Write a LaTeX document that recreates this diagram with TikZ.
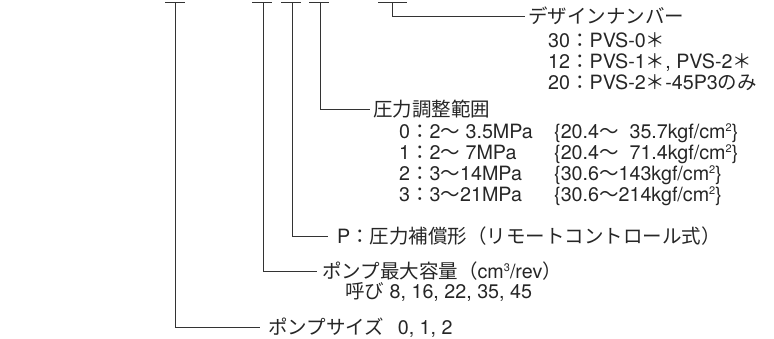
\documentclass[tikz,border=0pt]{standalone}
\usepackage{fontspec}
\setmainfont{TeX Gyre Heros}
\newfontfamily\jp[Scale=0.99]{Noto Sans CJK JP}
\newcommand\J[1]{{\jp #1}}
\newcommand\supnum[1]{\raisebox{6.5pt}{\fontsize{11}{11}\selectfont #1}}
\begin{document}
\begin{tikzpicture}[x=1pt,y=-1pt,
  txt/.style={anchor=west,inner sep=0pt,text height=14pt,text depth=0pt,
    font=\fontsize{19.7}{21}\selectfont,text=black!85},
  ln/.style={draw=black!80,line width=0.8pt}]
\useasboundingbox (0,0) rectangle (774,338);
% T bars
\coordinate (t1) at (175,2);
\coordinate (t2) at (263,2);
\coordinate (t3) at (292,2);
\coordinate (t4) at (320,2);
\coordinate (t5) at (392,2);
\draw[ln] (165,2) -- (185,2);
\draw[ln] (252,2) -- (272,2);
\draw[ln] (281,2) -- (301,2);
\draw[ln] (309,2) -- (329,2);
\draw[ln] (378,2) -- (407,2);
% labels
\node[txt] (l5) at (528,16) {\J{デザインナンバー}};
\node[txt] (d1) at (548,40) {30\J{：}PVS-0\J{＊}};
\node[txt] (d2) at (548,61) {12\J{：}PVS-1\J{＊}, PVS-2\J{＊}};
\node[txt] (d3) at (548,82) {20\J{：}PVS-2\J{＊}-45P3\J{のみ}};
\node[txt] (l4) at (373,109) {\J{圧力調整範囲}};
\node[txt] (p0) at (399,131) {0\J{：}2\J{～} 3.5MPa};
\node[txt] (p1) at (399,152) {1\J{：}2\J{～} 7MPa};
\node[txt] (p2) at (399,173) {2\J{：}3\J{～}14MPa};
\node[txt] (p3) at (399,194) {3\J{：}3\J{～}21MPa};
\node[txt] (q0) at (554,131) {\{20.4\J{～}\ \ 35.7kgf/cm\supnum{2}\}};
\node[txt] (q1) at (554,152) {\{20.4\J{～}\ \ 71.4kgf/cm\supnum{2}\}};
\node[txt] (q2) at (554,173) {\{30.6\J{～}143kgf/cm\supnum{2}\}};
\node[txt] (q3) at (554,194) {\{30.6\J{～}214kgf/cm\supnum{2}\}};
\node[txt] (l3) at (337,236) {P\J{：圧力補償形（リモートコントロール式）}};
\node[txt] (l2) at (322,271) {\J{ポンプ最大容量（}cm\supnum{3}/rev\J{）}};
\node[txt] (l2b) at (345,291) {\J{呼び} 8, 16, 22, 35, 45};
\node[txt] (l1) at (268,327) {\J{ポンプサイズ}\hspace{0.7em}0, 1, 2};
% connectors
\draw[ln] (t1) |- ([xshift=-8pt]l1.west);
\draw[ln] (t2) |- ([xshift=-5pt]l2.west);
\draw[ln] (t3) |- ([xshift=-9pt]l3.west);
\draw[ln] (t4) |- ([xshift=-3pt]l4.west);
\draw[ln] (t5) |- ([xshift=-3pt]l5.west);
\end{tikzpicture}
\end{document}
